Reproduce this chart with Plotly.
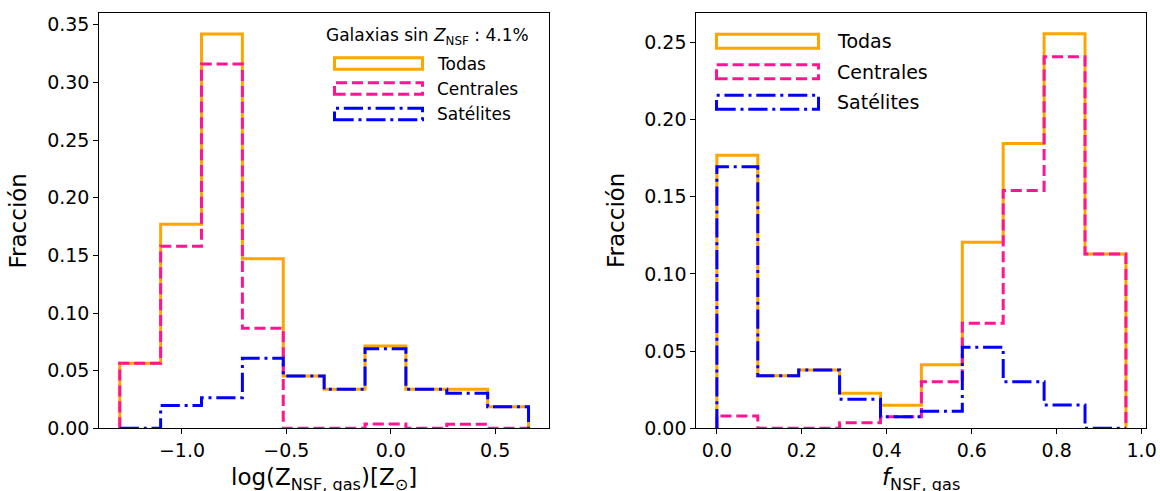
import numpy as np
import plotly.graph_objects as go

W, H = 1160, 491

# Histogram binning (10 equal bins over each variable's range)
n_bins = 10
z_lo, z_hi = -1.298, 0.660
f_lo, f_hi = 0.0, 0.963

# Fraction per bin: log(Z_NSF,gas)
z_todas = [0.0565, 0.177, 0.342, 0.147, 0.0454, 0.0339, 0.0715, 0.0339, 0.0339, 0.0188]
z_centrales = [0.0565, 0.158, 0.316, 0.0868, 0.0, 0.0, 0.0037, 0.0, 0.0035, 0.0]
z_satelites = [0.0, 0.0197, 0.0266, 0.0608, 0.0454, 0.0339, 0.0689, 0.0339, 0.0304, 0.0188]

# Fraction per bin: f_NSF,gas
f_todas = [0.1768, 0.0341, 0.0378, 0.0227, 0.0149, 0.0412, 0.1205, 0.1844, 0.2556, 0.1129]
f_centrales = [0.0080, 0.0, 0.0, 0.0036, 0.0075, 0.0302, 0.0680, 0.1541, 0.2407, 0.1129]
f_satelites = [0.1694, 0.0341, 0.0378, 0.0188, 0.0075, 0.0110, 0.0525, 0.0302, 0.0151, 0.0]

series_names = ["Todas", "Centrales", "Satélites"]
colors = ["#FFA500", "#FF1493", "#0000FF"]
dashes = ["solid", "11.1px,4.8px", "19.2px,4.8px,3px,4.8px"]
LW = 3.0
FONT = "DejaVu Sans"


def step_outline(lo, hi, values):
    edges = np.linspace(lo, hi, n_bins + 1)
    x = np.repeat(edges, 2)
    y = np.concatenate([[0.0], np.repeat(values, 2), [0.0]])
    return x, y


fig = go.Figure()

panels = [
    ("x", "y", z_lo, z_hi, [z_todas, z_centrales, z_satelites]),
    ("x2", "y2", f_lo, f_hi, [f_todas, f_centrales, f_satelites]),
]
for xa, ya, lo, hi, groups in panels:
    for name, vals, col, dsh in zip(series_names, groups, colors, dashes):
        x, y = step_outline(lo, hi, vals)
        fig.add_trace(go.Scatter(
            x=x, y=y, mode="lines", name=name, xaxis=xa, yaxis=ya,
            line=dict(color=col, width=LW, dash=dsh), showlegend=False,
            hoverinfo="skip",
        ))


def px(x):
    return x / W


def py(y):
    return 1 - y / H


axis_common = dict(
    showline=True, linecolor="black", linewidth=1.1, mirror=True,
    ticks="outside", ticklen=5, tickwidth=1.1, tickcolor="black",
    showgrid=False, zeroline=False, automargin=False,
    tickfont=dict(family=FONT, size=19, color="black"),
)

ydom = [py(428.3), py(13.3)]
fig.update_layout(
    template="none",
    width=W, height=H, autosize=False,
    margin=dict(l=0, r=0, t=0, b=0, pad=0),
    paper_bgcolor="white", plot_bgcolor="white",
    font=dict(family=FONT, color="black"),
    showlegend=False,
    xaxis=dict(axis_common, domain=[px(99.3), px(549.0)], range=[-1.396, 0.758],
               tickvals=[-1.0, -0.5, 0.0, 0.5],
               ticktext=["\u22121.0", "\u22120.5", "0.0", "0.5"], anchor="y"),
    yaxis=dict(axis_common, domain=ydom, range=[0, 0.360], dtick=0.05,
               tickformat=".2f", anchor="x"),
    xaxis2=dict(axis_common, domain=[px(696.4), px(1146.4)], range=[-0.0482, 1.0112],
                dtick=0.2, tickformat=".1f", anchor="y2"),
    yaxis2=dict(axis_common, domain=ydom, range=[0, 0.2688], dtick=0.05,
                tickformat=".2f", anchor="x2"),
)

annotations = []
shapes = []

# Axis titles
title_font = dict(family=FONT, size=23, color="black")
for xc in (17.5, 616.0):
    annotations.append(dict(
        text="Fracción", x=px(xc), y=py(221), xref="paper", yref="paper",
        showarrow=False, textangle=-90, xanchor="center", yanchor="middle",
        font=title_font,
    ))
annotations.append(dict(
    text="log(Z<sub>NSF, gas</sub>)[Z<sub>\u2299</sub>]", x=px(324.2), y=py(479),
    xref="paper", yref="paper", showarrow=False, xanchor="center", yanchor="middle",
    font=title_font,
))
annotations.append(dict(
    text="<i>f</i><sub>NSF, gas</sub>", x=px(921.0), y=py(479),
    xref="paper", yref="paper", showarrow=False, xanchor="center", yanchor="middle",
    font=title_font,
))


# Legend boxes drawn as outlined patches with text labels
def legend(x0, width, height, centers, text_x, size):
    for cy, name, col, dsh in zip(centers, series_names, colors, dashes):
        shapes.append(dict(
            type="rect", xref="paper", yref="paper",
            x0=px(x0), x1=px(x0 + width), y0=py(cy + height / 2), y1=py(cy - height / 2),
            line=dict(color=col, width=LW, dash=dsh), fillcolor="rgba(0,0,0,0)",
        ))
        annotations.append(dict(
            text=name, x=px(text_x), y=py(cy), xref="paper", yref="paper",
            showarrow=False, xanchor="left", yanchor="middle",
            font=dict(family=FONT, size=size, color="black"),
        ))


legend(334.5, 88, 11.5, [63.5, 88.5, 114.0], 434.5, 17)
annotations.append(dict(
    text="Galaxias sin <i>Z</i><sub>NSF</sub> : 4.1%", x=px(427.5), y=py(37),
    xref="paper", yref="paper", showarrow=False, xanchor="center", yanchor="middle",
    font=dict(family=FONT, size=17, color="black"),
))
legend(716.5, 102, 14, [41.3, 71.7, 102.3], 834.5, 19)

fig.update_layout(annotations=annotations, shapes=shapes)

fig.write_html("out.html")
